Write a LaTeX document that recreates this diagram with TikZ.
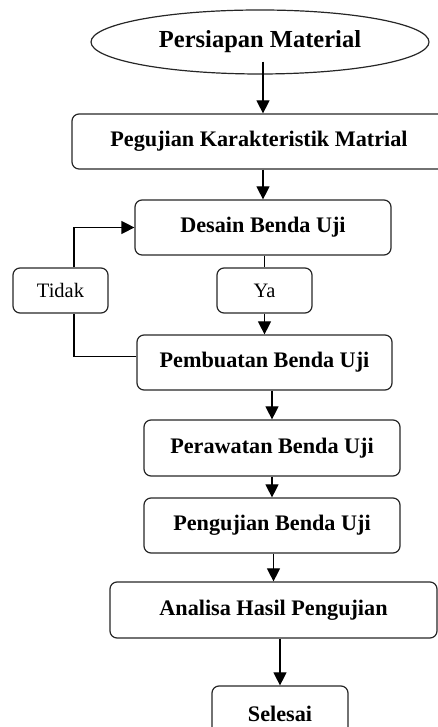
\documentclass[tikz,border=0pt]{standalone}
\usepackage{fontspec}
\setmainfont{Liberation Serif}
\usetikzlibrary{shapes.geometric,arrows.meta}
\begin{document}
\begin{tikzpicture}[x=1pt,y=1pt,
  line width=1.2pt,
  stepbox/.style={draw=black!85, rounded corners=7pt, inner sep=0pt, minimum height=55pt,
    font=\fontsize{22.2}{24}\selectfont\bfseries, align=center},
  labbox/.style={draw=black!85, rounded corners=7pt, inner sep=0pt, minimum width=95pt, minimum height=45pt,
    font=\fontsize{20.5}{23}\selectfont},
  arr/.style={-{Triangle[length=13pt,width=13pt]}},
]
\useasboundingbox (0,0) rectangle (438,727);
\node[draw=black!85, ellipse, inner sep=0pt, minimum width=338pt, minimum height=64pt,
  font=\fontsize{24.5}{26}\selectfont\bfseries] (e) at (260,685) {Persiapan Material};
\node[stepbox, minimum width=374pt] (b1) at (259,585.5) {Pegujian Karakteristik Matrial};
\node[stepbox, minimum width=256pt] (b2) at (263,499.5) {Desain Benda Uji};
\node[labbox] (tidak) at (60.5,436.5) {Tidak};
\node[labbox] (ya) at (264.5,436.5) {Ya};
\node[stepbox, minimum width=255pt] (b3) at (264.5,364.5) {Pembuatan Benda Uji};
\node[stepbox, minimum width=256pt, minimum height=56pt] (b4) at (272,279) {Perawatan Benda Uji};
\node[stepbox, minimum width=256pt] (b5) at (272,201.5) {Pengujian Benda Uji};
\node[stepbox, minimum width=327pt, minimum height=56pt] (b6) at (273.5,117) {Analisa Hasil Pengujian};
\node[stepbox, minimum width=136pt] (b7) at (280,13.5) {Selesai};

\draw[arr] ([xshift=3pt,yshift=13pt]e.south) -- ([xshift=4pt]b1.north);
\draw[arr] (b1.south -| b2.north) -- (b2.north);
\draw (b2.south -| ya.north) -- (ya.north);
\draw[arr] (ya.south) -- (b3.north -| ya.south);
\draw ([yshift=6pt]b3.west) -| ([xshift=13.5pt]tidak.south);
\draw[arr] ([xshift=13.5pt]tidak.north) |- (b2.west);
\draw[arr] (b3.south -| b4.north) -- (b4.north);
\draw[arr] (b4.south -| b5.north) -- (b5.north);
\draw[arr] (b5.south -| b6.north) -- (b6.north);
\draw[arr] (b6.south -| b7.north) -- (b7.north);
\end{tikzpicture}
\end{document}
